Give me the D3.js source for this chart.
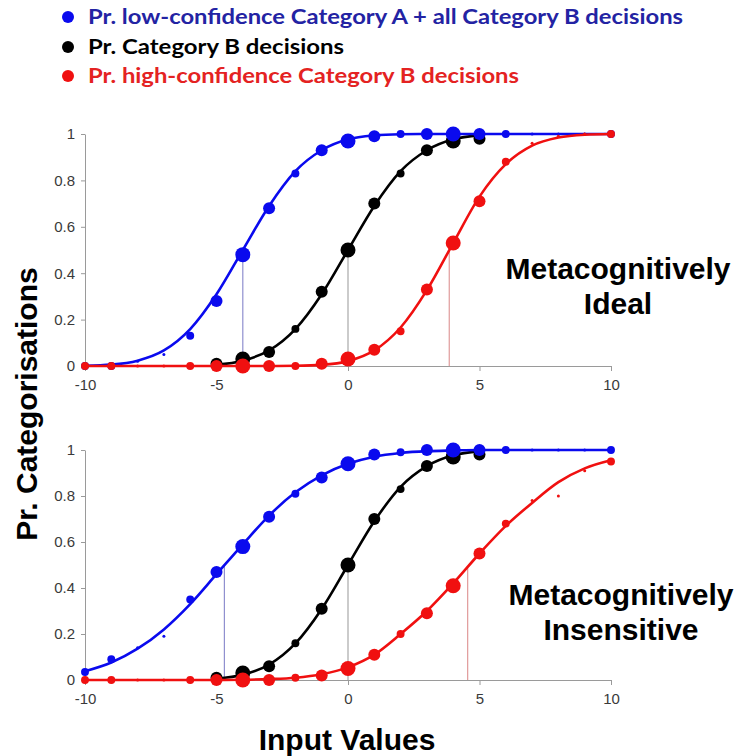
<!DOCTYPE html>
<html>
<head>
<meta charset="utf-8">
<script src="https://cdn.jsdelivr.net/npm/d3@7"></script>
<style>
  body { margin: 0; background: #fff; }
  svg { display: block; }
</style>
</head>
<body>
<div id="chart"></div>
<script>
// input values on the x axis
const inputValues = [-10, -9, -8, -7, -6, -5, -4, -3, -2, -1, 0, 1, 2, 3, 4, 5, 6, 7, 8, 9, 10];
// relative number of trials at each input value (marker size)
const trialWeights = [7, 7, 1, 1, 7, 16, 25, 16, 7, 16, 25, 16, 7, 16, 25, 16, 7, 1, 1, 1, 7];
// black series only covers -5..5
const blackInputs = [-5, -4, -3, -2, -1, 0, 1, 2, 3, 4, 5];

// legend
const seriesNames = [
  "Pr. low-confidence Category A + all Category B decisions",
  "Pr. Category B decisions",
  "Pr. high-confidence Category B decisions"
];

// tick labels
const xTicks = [-10, -5, 0, 5, 10];
const yTicks = [0, 0.2, 0.4, 0.6, 0.8, 1];

// top panel: metacognitively ideal
const idealBlue  = [0.00, 0.00, 0.02, 0.05, 0.13, 0.28, 0.48, 0.68, 0.83, 0.93, 0.97, 0.99, 1.00, 1.00, 1.00, 1.00, 1.00, 1.00, 1.00, 1.00, 1.00];
const idealBlack = [0.01, 0.03, 0.06, 0.16, 0.32, 0.50, 0.70, 0.83, 0.93, 0.97, 0.98];
const idealRed   = [0.00, 0.00, 0.00, 0.00, 0.00, 0.00, 0.00, 0.00, 0.00, 0.01, 0.03, 0.07, 0.15, 0.33, 0.53, 0.71, 0.88, 0.96, 0.99, 1.00, 1.00];
// fitted curves, read at each input value
const idealBlueFit  = [0.001, 0.006, 0.023, 0.067, 0.159, 0.309, 0.50, 0.69, 0.84, 0.93, 0.977, 0.994, 0.999, 1, 1, 1, 1, 1, 1, 1, 1];
const idealBlackFit = [0.006, 0.023, 0.067, 0.159, 0.309, 0.50, 0.69, 0.84, 0.93, 0.977, 0.994];
const idealRedFit   = [0, 0, 0, 0, 0, 0, 0, 0, 0.001, 0.005, 0.021, 0.067, 0.166, 0.327, 0.53, 0.73, 0.87, 0.95, 0.985, 0.997, 1.0];
const idealThresholds = [-4, 0, 3.85];

// bottom panel: metacognitively insensitive
const insensBlue  = [0.035, 0.09, 0.14, 0.19, 0.35, 0.47, 0.58, 0.71, 0.81, 0.88, 0.94, 0.98, 0.99, 1.00, 1.00, 1.00, 1.00, 1.00, 1.00, 1.00, 1.00];
const insensBlack = [0.01, 0.03, 0.06, 0.16, 0.31, 0.50, 0.70, 0.83, 0.93, 0.97, 0.98];
const insensRed   = [0.00, 0.00, 0.00, 0.00, 0.00, 0.00, 0.00, 0.00, 0.01, 0.02, 0.05, 0.11, 0.20, 0.29, 0.41, 0.55, 0.68, 0.78, 0.80, 0.91, 0.95];
const insensBlueFit  = [0.038, 0.076, 0.136, 0.22, 0.33, 0.46, 0.59, 0.715, 0.816, 0.89, 0.94, 0.971, 0.987, 0.995, 0.998, 1, 1, 1, 1, 1, 1];
const insensBlackFit = [0.006, 0.023, 0.067, 0.159, 0.309, 0.50, 0.69, 0.84, 0.93, 0.977, 0.994];
const insensRedFit   = [0, 0, 0, 0, 0, 0, 0.001, 0.004, 0.01, 0.025, 0.055, 0.11, 0.20, 0.30, 0.42, 0.55, 0.67, 0.77, 0.86, 0.92, 0.955];
const insensThresholds = [-4.7, 0, 4.55];

//chart size
const width = 737;
const height = 756;

const colors = { blue: "#0a0aee", black: "#000000", red: "#f01010" };
const textColors = ["#2323a3", "#000000", "#e42222"];
const dropColors = ["#8f8fcf", "#a8a8a8", "#e09a9a"];

const svg = d3.select("#chart")
  .append("svg")
  .attr("width", width)
  .attr("height", height);

const x = d3.scaleLinear().domain([-10, 10]).range([85, 611]);
const r = d3.scaleSqrt().domain([0, 25]).range([0, 7.5]);

// legend
const legendY = [17, 47, 76];
const legendWidths = [595, 256, 431];
const legendDots = [colors.blue, colors.black, colors.red];
seriesNames.forEach((name, i) => {
  svg.append("circle")
    .attr("cx", 68).attr("cy", legendY[i]).attr("r", 6)
    .attr("fill", legendDots[i]);
  svg.append("text")
    .attr("x", 88).attr("y", legendY[i] + 7)
    .attr("font-family", "Lato, 'Open Sans', sans-serif")
    .attr("font-weight", "bold")
    .attr("font-size", 20.5)
    .attr("fill", textColors[i])
    .attr("textLength", legendWidths[i])
    .attr("lengthAdjust", "spacingAndGlyphs")
    .text(name);
});

function drawPanel(yRange, series, thresholds, labelLines, labelX, labelY) {
  const y = d3.scaleLinear().domain([0, 1]).range(yRange);
  const g = svg.append("g");

  //x-axis
  const xAxis = g.append("g")
    .attr("transform", `translate(0,${y(0)})`)
    .call(d3.axisBottom(x).tickValues(xTicks).tickFormat(d => String(d))
      .tickSize(5).tickSizeOuter(0).tickPadding(8));
  //y-axis
  const yAxis = g.append("g")
    .attr("transform", `translate(${x(-10)},0)`)
    .call(d3.axisLeft(y).tickValues(yTicks).tickFormat(d => String(d))
      .tickSize(4).tickSizeOuter(0).tickPadding(6));
  [xAxis, yAxis].forEach(a => {
    a.select(".domain").attr("stroke", "#9a9a9a");
    a.selectAll(".tick line").attr("stroke", "#9a9a9a");
    a.selectAll("text")
      .attr("font-family", "'Liberation Sans', Arial, sans-serif")
      .attr("font-size", 15)
      .attr("fill", "#3a3a3a");
  });

  // drop lines at the 50% points
  series.forEach((s, i) => {
    const level = d3.scaleLinear().domain(s.xs).range(s.fit)(thresholds[i]);
    g.append("line")
      .attr("x1", x(thresholds[i])).attr("x2", x(thresholds[i]))
      .attr("y1", y(0)).attr("y2", y(level))
      .attr("stroke", dropColors[i]).attr("stroke-width", 1.2);
  });

  const line = d3.line()
    .x(d => x(d[0]))
    .y(d => y(d[1]))
    .curve(d3.curveMonotoneX);

  // black under blue, red on top
  [1, 0, 2].forEach(i => {
    const s = series[i];
    g.append("path")
      .datum(s.xs.map((v, j) => [v, s.fit[j]]))
      .attr("d", line)
      .attr("fill", "none")
      .attr("stroke", s.color)
      .attr("stroke-width", 2.6);
    g.selectAll(null)
      .data(s.xs.map((v, j) => ({ x: v, y: s.values[j], w: trialWeights[inputValues.indexOf(v)] })))
      .enter().append("circle")
      .attr("cx", d => x(d.x))
      .attr("cy", d => y(d.y))
      .attr("r", d => r(d.w))
      .attr("fill", s.color);
  });

  labelLines.forEach((t, i) => {
    g.append("text")
      .attr("x", labelX).attr("y", labelY + i * 35)
      .attr("text-anchor", "middle")
      .attr("font-family", "'Liberation Sans', Arial, sans-serif")
      .attr("font-weight", "bold")
      .attr("font-size", 30)
      .attr("fill", "#000")
      .text(t);
  });
}

drawPanel([366, 134], [
  { xs: inputValues, values: idealBlue, fit: idealBlueFit, color: colors.blue },
  { xs: blackInputs, values: idealBlack, fit: idealBlackFit, color: colors.black },
  { xs: inputValues, values: idealRed, fit: idealRedFit, color: colors.red }
], idealThresholds, ["Metacognitively", "Ideal"], 618, 279);

drawPanel([680, 450], [
  { xs: inputValues, values: insensBlue, fit: insensBlueFit, color: colors.blue },
  { xs: blackInputs, values: insensBlack, fit: insensBlackFit, color: colors.black },
  { xs: inputValues, values: insensRed, fit: insensRedFit, color: colors.red }
], insensThresholds, ["Metacognitively", "Insensitive"], 621, 605);

// axis titles
svg.append("text")
  .attr("transform", "translate(37,404) rotate(-90)")
  .attr("text-anchor", "middle")
  .attr("font-family", "'Liberation Sans', Arial, sans-serif")
  .attr("font-weight", "bold")
  .attr("font-size", 30)
  .text("Pr. Categorisations");

svg.append("text")
  .attr("x", 347).attr("y", 750)
  .attr("text-anchor", "middle")
  .attr("font-family", "'Liberation Sans', Arial, sans-serif")
  .attr("font-weight", "bold")
  .attr("font-size", 30)
  .text("Input Values");
</script>
</body>
</html>
